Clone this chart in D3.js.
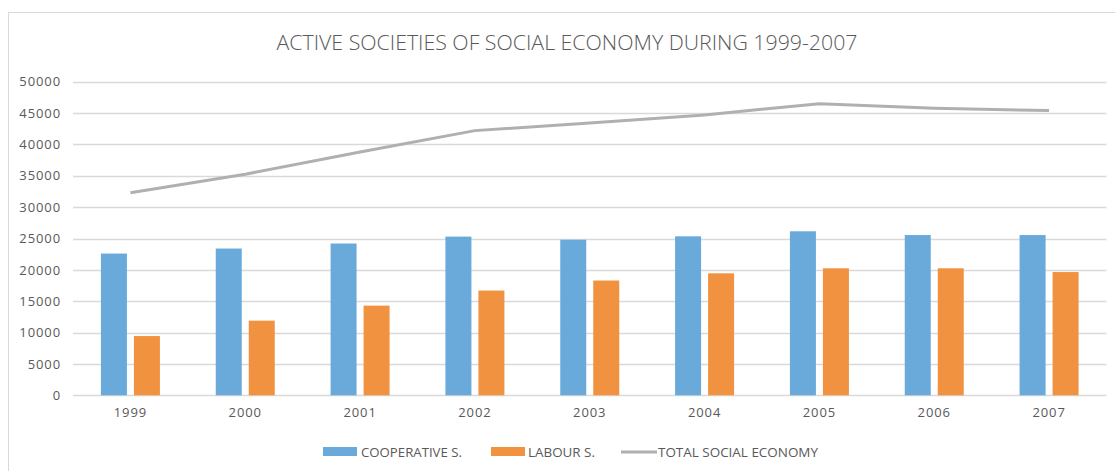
<!DOCTYPE html>
<html><head><meta charset="utf-8">
<script src="https://cdn.jsdelivr.net/npm/d3@7/dist/d3.min.js"></script>
<style>
body{margin:0;background:#fff;}
text{font-family:"Open Sans","Liberation Sans",sans-serif;fill:#595959;}
</style></head>
<body><svg id="c" width="1115" height="471"></svg>
<script>
const years = ["1999","2000","2001","2002","2003","2004","2005","2006","2007"];
const cooperative = [22600, 23400, 24200, 25300, 24800, 25350, 26150, 25550, 25550];
const labour = [9450, 11900, 14300, 16700, 18300, 19450, 20250, 20250, 19650];
const total = [32300, 35250, 38800, 42200, 43400, 44700, 46500, 45750, 45400];
const yTicks = [0,5000,10000,15000,20000,25000,30000,35000,40000,45000,50000];
const seriesNames = ["COOPERATIVE S.","LABOUR S.","TOTAL SOCIAL ECONOMY"];
const colors = ["#6aaadb","#f19241","#b0b0b0"];
const title = "ACTIVE SOCIETIES OF SOCIAL ECONOMY DURING 1999-2007";

const svg = d3.select("#c");
svg.append("rect").attr("x",8.5).attr("y",12.5).attr("width",1120).attr("height",480)
  .attr("fill","#fff").attr("stroke","#d9d9d9");

const x = d3.scaleBand().domain(years).range([73,1106.5]).paddingInner(0).paddingOuter(0);
const y = d3.scaleLinear().domain([0,50000]).range([395.3,81.7]);
const bw = 26, gap = 7;

// grid
svg.append("g").selectAll("line").data(yTicks).join("line")
  .attr("x1",73).attr("x2",1106.5).attr("y1",d=>Math.round(y(d))+0.5).attr("y2",d=>Math.round(y(d))+0.5)
  .attr("stroke","#d9d9d9").attr("stroke-width",1.3);

// y axis labels
const ya = svg.append("g").attr("transform","translate(61,0)")
  .call(d3.axisLeft(y).tickValues(yTicks).tickSize(0).tickPadding(0).tickFormat(d3.format("d")));
ya.select(".domain").remove();
ya.selectAll("text").style("font-size","13px").style("letter-spacing","0.9px").attr("fill","#595959");

// x axis labels
const xa = svg.append("g").attr("transform","translate(0,408)")
  .call(d3.axisBottom(x).tickSize(0).tickPadding(0));
xa.select(".domain").remove();
xa.selectAll("text").style("font-size","13px").style("letter-spacing","0.9px").attr("fill","#595959").attr("dy","0.71em");

// bars
svg.append("g").selectAll("rect").data(cooperative).join("rect")
  .attr("x",(d,i)=>x(years[i])+x.bandwidth()/2-gap/2-bw).attr("width",bw)
  .attr("y",d=>y(d)).attr("height",d=>y(0)-y(d)).attr("fill",colors[0]);
svg.append("g").selectAll("rect").data(labour).join("rect")
  .attr("x",(d,i)=>x(years[i])+x.bandwidth()/2+gap/2).attr("width",bw)
  .attr("y",d=>y(d)).attr("height",d=>y(0)-y(d)).attr("fill",colors[1]);

// line
const line = d3.line().x((d,i)=>x(years[i])+x.bandwidth()/2).y(d=>y(d));
svg.append("path").datum(total).attr("d",line).attr("fill","none")
  .attr("stroke",colors[2]).attr("stroke-width",3).attr("stroke-linejoin","round");

// title
svg.append("text").attr("x",567).attr("y",50).attr("text-anchor","middle")
  .style("font-size","20px").style("font-weight","300")
  .attr("textLength",581).attr("lengthAdjust","spacingAndGlyphs").text(title);

// legend
const lg = svg.append("g");
lg.append("rect").attr("x",323).attr("y",447).attr("width",34).attr("height",9).attr("fill",colors[0]);
lg.append("text").attr("x",361).attr("y",456.5).style("font-size","12.5px")
  .attr("textLength",101).attr("lengthAdjust","spacingAndGlyphs").text(seriesNames[0]);
lg.append("rect").attr("x",491).attr("y",447).attr("width",34).attr("height",9).attr("fill",colors[1]);
lg.append("text").attr("x",528).attr("y",456.5).style("font-size","12.5px")
  .attr("textLength",67).attr("lengthAdjust","spacingAndGlyphs").text(seriesNames[1]);
lg.append("line").attr("x1",621).attr("x2",657).attr("y1",452).attr("y2",452)
  .attr("stroke",colors[2]).attr("stroke-width",3);
lg.append("text").attr("x",658).attr("y",456.5).style("font-size","12.5px")
  .attr("textLength",160).attr("lengthAdjust","spacingAndGlyphs").text(seriesNames[2]);
</script></body></html>
